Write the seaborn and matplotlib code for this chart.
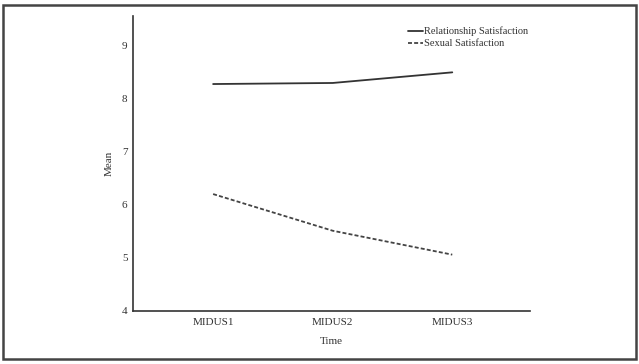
import matplotlib
matplotlib.use("Agg")
import matplotlib.pyplot as plt
import seaborn as sns
import pandas as pd
from matplotlib.patches import Rectangle

times = ["MIDUS1", "MIDUS2", "MIDUS3"]
relationship = [8.27, 8.29, 8.49]
sexual = [6.20, 5.51, 5.06]
series_names = ["Relationship Satisfaction", "Sexual Satisfaction"]
yticks = [4, 5, 6, 7, 8, 9]

df = pd.DataFrame({
    "Time": times * 2,
    "Mean": relationship + sexual,
    "Series": [series_names[0]] * 3 + [series_names[1]] * 3,
})
df["x"] = [0, 1, 2] * 2

sns.set_style("white")
plt.rcParams["font.family"] = ["Liberation Serif", "DejaVu Serif"]

fig = plt.figure(figsize=(6.39, 3.64), dpi=100)
ax = fig.add_axes([133/639, 1-311/364, (530-133)/639, (311-16)/364])

sns.lineplot(data=df, x="x", y="Mean", style="Series", hue="Series",
             palette=["#333333", "#444444"], dashes={series_names[0]: "", series_names[1]: (2.2, 1.2)},
             linewidth=1.3, ax=ax, legend=True)

ax.set_xlim(-0.67, 2.65)
ax.set_ylim(4, 9.55)
ax.set_xticks([0, 1, 2])
ax.set_xticklabels(times)
ax.set_yticks(yticks)
ax.tick_params(axis="both", length=0, labelsize=8, colors="#333333", pad=4)
ax.tick_params(axis="x", pad=5)
ax.set_xlabel("Time", fontsize=8, color="#333333", labelpad=7)
ax.set_ylabel("Mean", fontsize=8, color="#333333", labelpad=6)
for s in ["top", "right"]:
    ax.spines[s].set_visible(False)
for s in ["left", "bottom"]:
    ax.spines[s].set_color("#333333")
    ax.spines[s].set_linewidth(1.2)

leg = ax.legend(title=None, frameon=False, fontsize=7.5, loc="upper right",
                bbox_to_anchor=(1.01, 0.985), handlelength=1.4, handletextpad=0.1,
                labelspacing=0.25, borderaxespad=0.2)
for t in leg.get_texts():
    t.set_color("#333333")

fig.patches.append(Rectangle((3/639, 5/364), 633/639, 354/364, transform=fig.transFigure,
                             fill=False, edgecolor="#444444", linewidth=1.8))

fig.savefig("out.png", dpi=100)
